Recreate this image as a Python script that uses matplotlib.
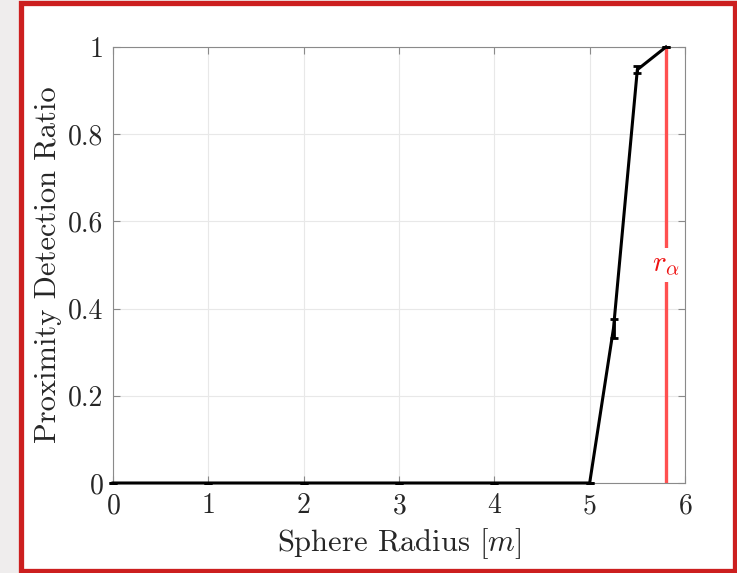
import numpy as np
import matplotlib
matplotlib.use("Agg")
import matplotlib.pyplot as plt
from matplotlib.patches import Rectangle

# data
radius = [0, 1, 2, 3, 4, 5, 5.25, 5.5, 5.8]
ratio = [0, 0, 0, 0, 0, 0, 0.355, 0.948, 1.0]
err_lo = [0, 0, 0, 0, 0, 0, 0.022, 0.008, 0]
err_hi = [0, 0, 0, 0, 0, 0, 0.022, 0.008, 0]
r_alpha = 5.8

plt.rcParams['font.family'] = 'serif'
plt.rcParams['font.serif'] = ['cmr10']
plt.rcParams['mathtext.fontset'] = 'cm'
plt.rcParams['axes.formatter.use_mathtext'] = True

W, H = 737, 573
fig = plt.figure(figsize=(W / 100, H / 100), dpi=100)
fig.patch.set_facecolor('#efeded')

# white panel with red frame, kept behind the axes
frame = Rectangle((20.5 / W, 2.5 / H), 714 / W, 568 / H,
                  transform=fig.transFigure, facecolor='white',
                  edgecolor='#cc1f1f', linewidth=3.8, zorder=-10)
fig.patches.append(frame)

ax = fig.add_axes([113 / W, (H - 483) / H, 572 / W, 436 / H])
ax.set_zorder(5)
ax.set_facecolor('white')

ax.grid(True, color='#e8e8e8', linewidth=0.8)
ax.set_axisbelow(True)

ax.vlines(r_alpha, 0, 1, color='#ff5050', linewidth=2.4, zorder=2)
ax.text(r_alpha, 0.5, r'$r_\alpha$', color='#ee1111', fontsize=21,
        ha='center', va='center', zorder=3,
        bbox=dict(facecolor='white', edgecolor='none', pad=3))

ax.errorbar(radius, ratio, yerr=[err_lo, err_hi], color='black',
            linewidth=2.2, elinewidth=2, capsize=3, capthick=2,
            zorder=4, clip_on=False)

ax.set_xlim(0, 6)
ax.set_ylim(0, 1)
ax.set_xticks(range(7))
ax.set_yticks([0, 0.2, 0.4, 0.6, 0.8, 1])
ax.set_yticklabels(['0', '0.2', '0.4', '0.6', '0.8', '1'])

for s in ax.spines.values():
    s.set_color('#8a8a8a')
    s.set_linewidth(0.8)
ax.tick_params(direction='in', top=True, right=True, length=5,
               color='#8a8a8a', labelsize=20, labelcolor='#262626')
ax.tick_params(axis='x', pad=7)
ax.tick_params(axis='y', pad=7)

ax.set_xlabel(r'Sphere Radius $[m]$', fontsize=22, color='#262626', labelpad=5)
ax.set_ylabel('Proximity Detection Ratio', fontsize=22, color='#262626', labelpad=4)

fig.savefig('out.png', dpi=100, facecolor=fig.get_facecolor())
